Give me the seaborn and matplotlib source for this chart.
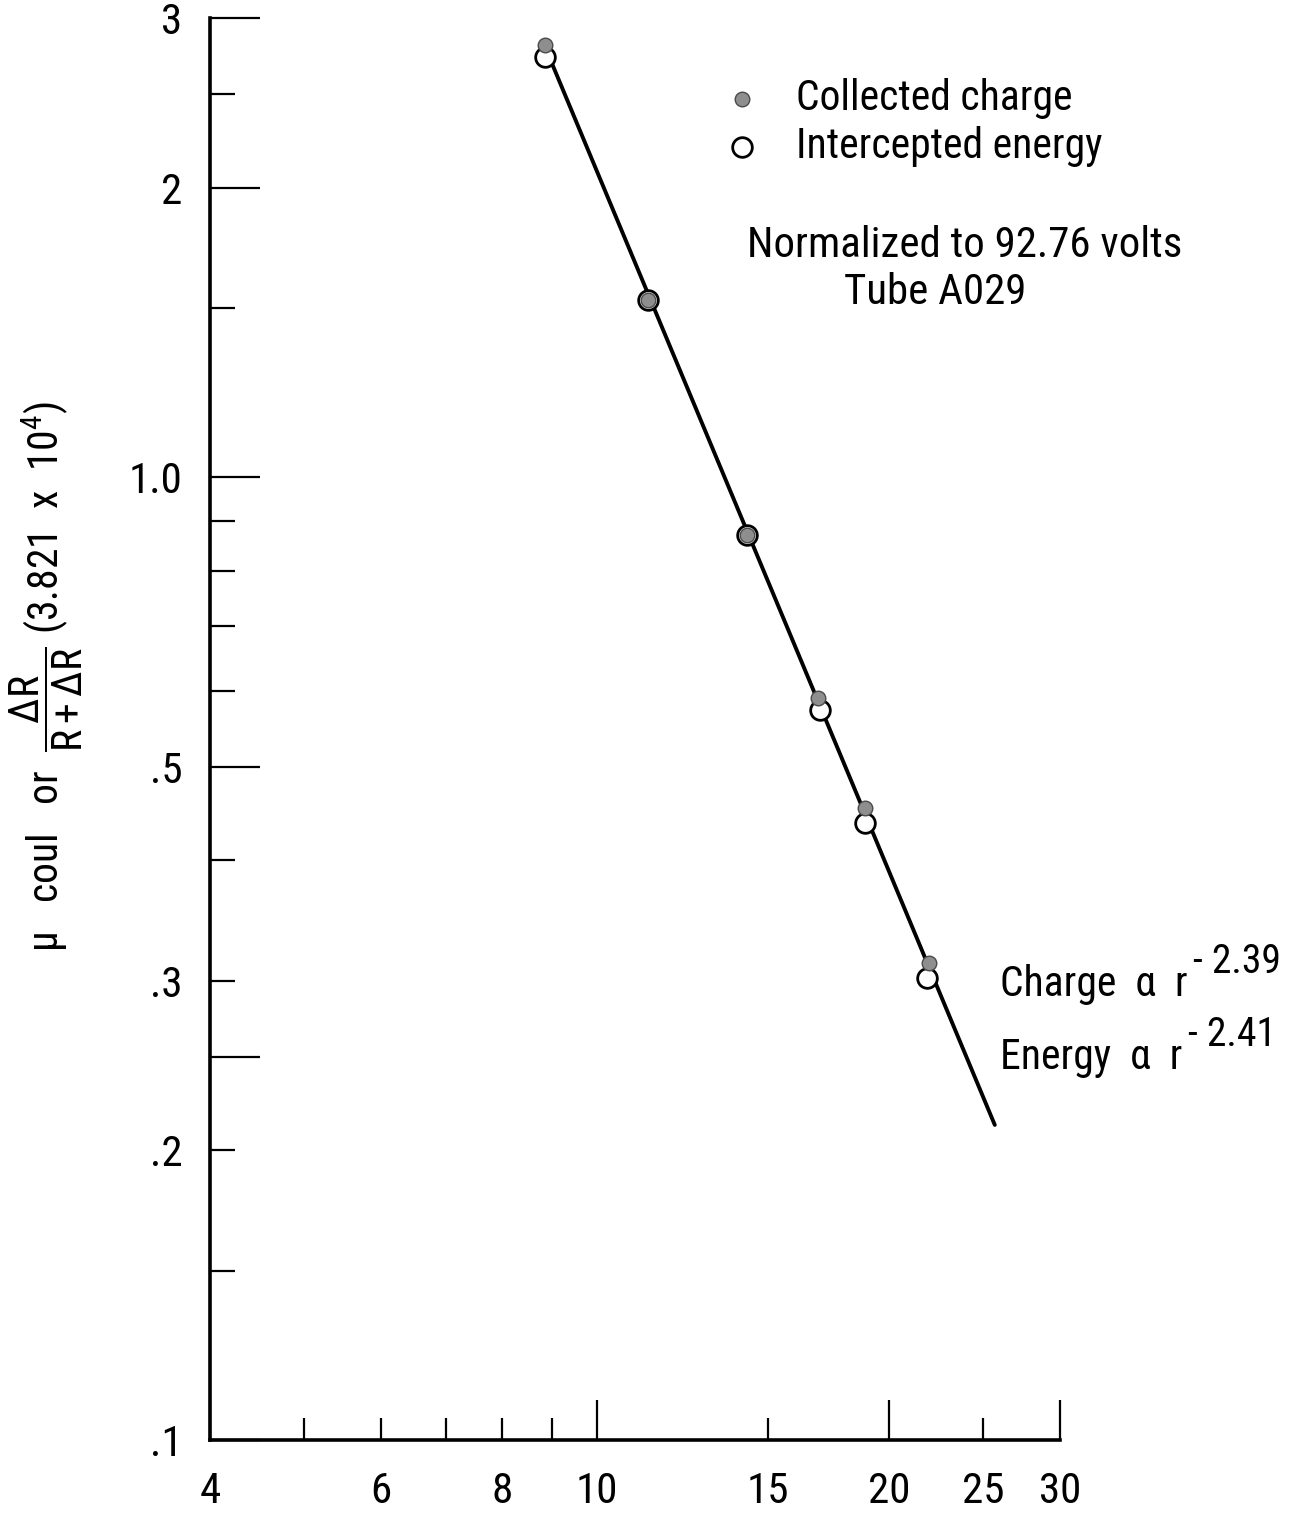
import matplotlib
matplotlib.use("Agg")
import matplotlib.pyplot as plt
import seaborn as sns
from matplotlib.ticker import FixedLocator, FixedFormatter
from matplotlib import font_manager

# ---------------- data ----------------
charge_r = [8.85, 11.3, 14.3, 16.9, 18.9, 22.0]
charge_val = [2.81, 1.53, 0.871, 0.590, 0.453, 0.313]

energy_r = [8.85, 11.3, 14.3, 16.98, 18.9, 21.9]
energy_val = [2.73, 1.53, 0.871, 0.573, 0.438, 0.302]

fit_r = [8.85, 25.7]
fit_val = [2.80, 0.2125]

x_major = [4, 10, 20, 30]
x_major_labels = ["4", "10", "20", "30"]
x_minor = [5, 6, 7, 8, 9, 15, 25]
x_minor_labels = ["", "6", "", "8", "", "15", "25"]

y_major = [0.1, 0.25, 0.5, 1.0, 2.0, 3.0]
y_major_labels = [".1", "", ".5", "1.0", "2", "3"]
y_minor = [0.15, 0.2, 0.3, 0.4, 0.6, 0.7, 0.8, 0.9, 1.5, 2.5]
y_minor_labels = ["", ".2", ".3", "", "", "", "", "", "", ""]

legend_labels = ["Collected charge", "Intercepted energy"]
note_lines = ["Normalized to 92.76 volts", "Tube A029"]
law_texts = ["Charge  \u03b1  r", "Energy  \u03b1  r"]
law_exps = ["- 2.39", "- 2.41"]
ylabel = "\u03bc   coul   or  $\\dfrac{\\Delta R}{R+\\Delta R}$ (3.821  x  10$^{4}$)"


# ---------------- style ----------------
def pick_font():
    entries = font_manager.fontManager.ttflist
    names = {e.name for e in entries}
    prefer = ["Liberation Sans Narrow", "DejaVu Sans Condensed", "Roboto Condensed",
              "Open Sans Condensed", "Noto Sans Condensed", "Noto Sans SemiCondensed",
              "Open Sans SemiCondensed", "Arial Narrow"]
    for p in prefer:
        if p in names:
            return p, "normal", True
    for e in entries:
        st = str(e.stretch).lower()
        if e.name in ("DejaVu Sans", "Noto Sans", "Open Sans", "Roboto",
                      "Liberation Sans") and "condensed" in st and e.style == "normal":
            return e.name, e.stretch, True
    return "DejaVu Sans", "normal", False


sns.set_theme(style="white")
fam, stretch, narrow = pick_font()
plt.rcParams["font.family"] = [fam, "DejaVu Sans"]
plt.rcParams["font.stretch"] = stretch
plt.rcParams["text.color"] = "black"
plt.rcParams["axes.labelcolor"] = "black"
plt.rcParams["mathtext.fontset"] = "custom"
mfam = fam if stretch == "normal" else f"{fam}:stretch={stretch}"
plt.rcParams["mathtext.rm"] = mfam
plt.rcParams["mathtext.it"] = mfam
plt.rcParams["mathtext.sf"] = mfam

k = 1.0 if narrow else 0.86
fs_tick = 31 * k
fs_text = 30 * k

fig = plt.figure(figsize=(13.1, 15.13), dpi=100)
ax = fig.add_axes([0.1603, 0.0482, 0.6489, 0.9399])
ax.set_facecolor("white")

sns.lineplot(x=fit_r, y=fit_val, ax=ax, color="black", linewidth=2.8,
             estimator=None, sort=False, zorder=2)
sns.scatterplot(x=energy_r, y=energy_val, ax=ax, s=200, color="white",
                edgecolor="black", linewidth=2.0, label=legend_labels[1], zorder=3)
sns.scatterplot(x=charge_r, y=charge_val, ax=ax, s=110, color="#8e8e8e",
                edgecolor="#4a4a4a", linewidth=1.0, label=legend_labels[0], zorder=4)

ax.set_xscale("log")
ax.set_yscale("log")
ax.set_xlim(4, 30)
ax.set_ylim(0.1, 3)

ax.xaxis.set_major_locator(FixedLocator(x_major))
ax.xaxis.set_major_formatter(FixedFormatter(x_major_labels))
ax.xaxis.set_minor_locator(FixedLocator(x_minor))
ax.xaxis.set_minor_formatter(FixedFormatter(x_minor_labels))
ax.yaxis.set_major_locator(FixedLocator(y_major))
ax.yaxis.set_major_formatter(FixedFormatter(y_major_labels))
ax.yaxis.set_minor_locator(FixedLocator(y_minor))
ax.yaxis.set_minor_formatter(FixedFormatter(y_minor_labels))

ax.tick_params(axis="both", which="both", direction="in", width=1.6,
               color="black", labelcolor="black", labelsize=fs_tick,
               left=True, bottom=True)
ax.tick_params(axis="y", which="major", length=36, pad=20)
ax.tick_params(axis="y", which="minor", length=18, pad=20)
ax.tick_params(axis="x", which="major", length=29, pad=22)
ax.tick_params(axis="x", which="minor", length=16, pad=22)

for s in ["top", "right"]:
    ax.spines[s].set_visible(False)
for s in ["left", "bottom"]:
    ax.spines[s].set_linewidth(2.6)
    ax.spines[s].set_color("black")

ax.set_xlabel("")
ax.set_ylabel("")

handles, labels = ax.get_legend_handles_labels()
order = [labels.index(l) for l in legend_labels]
leg = ax.legend([handles[i] for i in order], [labels[i] for i in order],
                loc="upper left", bbox_to_anchor=(0.601, 0.9578),
                frameon=False, fontsize=fs_text, handlelength=1.0,
                handletextpad=0.8, labelspacing=0.16, borderpad=0,
                borderaxespad=0)
for t in leg.get_texts():
    t.set_color("black")

ax.text(0.888, 0.840, note_lines[0], transform=ax.transAxes, fontsize=fs_text * 1.03,
        ha="center", va="center")
ax.text(0.853, 0.807, note_lines[1], transform=ax.transAxes, fontsize=fs_text * 1.03,
        ha="center", va="center")

for i, ypos in enumerate([0.3207, 0.2693]):
    t = ax.text(0.929, ypos, law_texts[i], transform=ax.transAxes,
                fontsize=fs_text, ha="left", va="center")
    ax.annotate(law_exps[i], xy=(1.0, 0.5), xycoords=t, xytext=(4, 16),
                textcoords="offset points", fontsize=fs_text * 0.95,
                ha="left", va="center")

ax.text(-0.192, 0.537, ylabel, transform=ax.transAxes, fontsize=fs_text,
        rotation=90, ha="center", va="center")

fig.savefig("out.png", dpi=100, facecolor="white")
